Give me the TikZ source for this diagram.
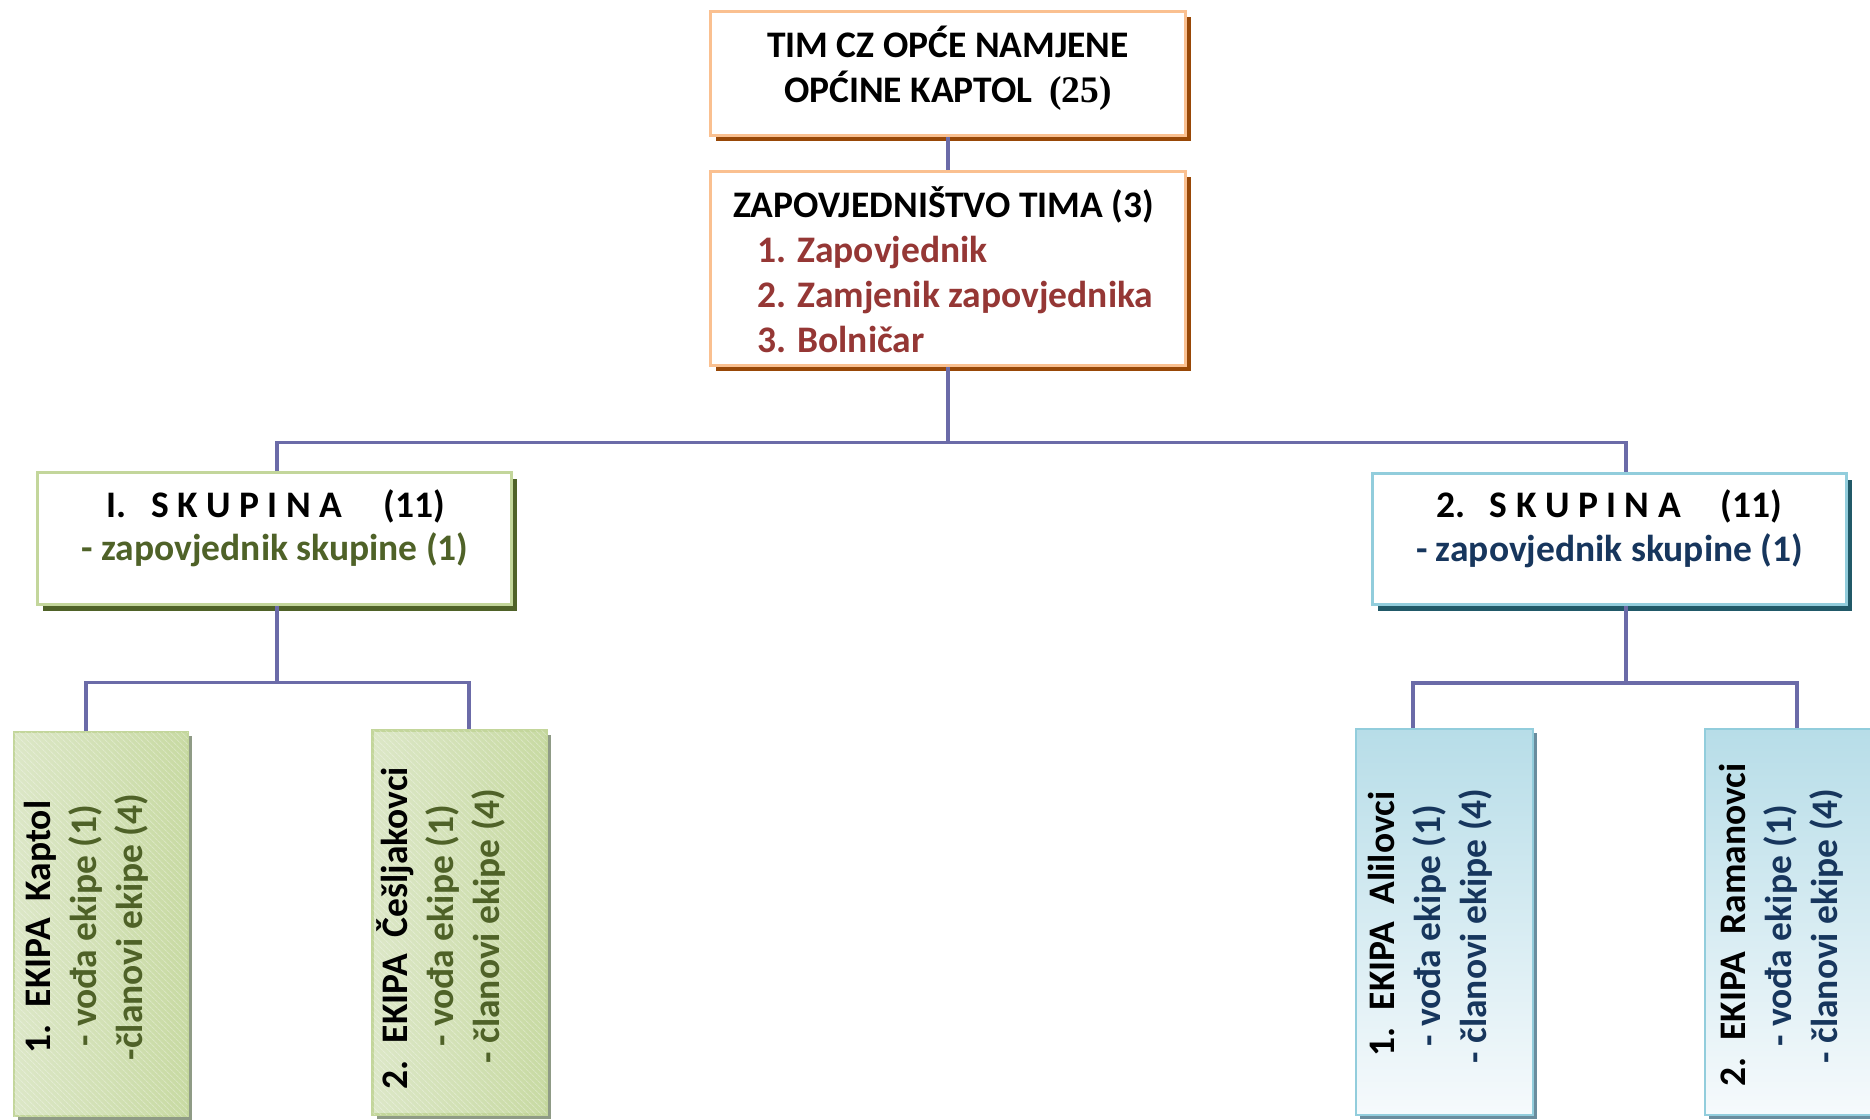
\documentclass[tikz,border=0pt]{standalone}
\usepackage{fontspec}
\setmainfont{Carlito}
\newfontfamily\serifnum{Liberation Serif}
\usetikzlibrary{shadows,patterns.meta,calc}

\definecolor{orB}{HTML}{FAC090}
\definecolor{orS}{HTML}{984807}
\definecolor{grB}{HTML}{C3D69B}
\definecolor{grS}{HTML}{4F6228}
\definecolor{grT}{HTML}{4F6228}
\definecolor{blB}{HTML}{92CDDC}
\definecolor{blS}{HTML}{215968}
\definecolor{blT}{HTML}{17365D}
\definecolor{redT}{HTML}{953735}
\definecolor{connC}{HTML}{6B6BA8}
\definecolor{grFa}{HTML}{DCE7C7}
\definecolor{grFb}{HTML}{C8DAA3}
\definecolor{blFa}{HTML}{B7DDE8}
\definecolor{blFb}{HTML}{F6FAFC}
\definecolor{grSh}{HTML}{8F9B86}
\definecolor{blSh}{HTML}{6A8D9E}

\begin{document}
\begin{tikzpicture}[x=1pt,y=-1pt,
  font=\bfseries\fontsize{37.5}{45}\selectfont,
  box/.style={inner sep=0pt, line width=3pt, fill=white},
  topbox/.style={box, draw=orB, minimum width=475pt,
    drop shadow={shadow xshift=5pt, shadow yshift=-5pt, fill=orS, opacity=1}},
  gbox/.style={box, draw=grB, minimum width=474pt, minimum height=132pt,
    drop shadow={shadow xshift=5.5pt, shadow yshift=-6pt, fill=grS, opacity=1}},
  bbox/.style={box, draw=blB, minimum width=474pt, minimum height=131pt,
    drop shadow={shadow xshift=5.5pt, shadow yshift=-6pt, fill=blS, opacity=1}},
  gek/.style={inner sep=0pt, line width=2.5pt, draw=grB, minimum width=174pt, minimum height=384pt,
    left color=grFa, right color=grFb,
    drop shadow={shadow xshift=4.5pt, shadow yshift=-4pt, fill=grSh, opacity=1},
    postaction={pattern={Lines[angle=-45,distance=4pt,line width=1pt]}, pattern color=white, opacity=0.3}},
  bek/.style={inner sep=0pt, line width=2.5pt, draw=blB, minimum width=177pt, minimum height=386pt,
    top color=blFa, bottom color=blFb,
    drop shadow={shadow xshift=4pt, shadow yshift=-4pt, fill=blSh, opacity=1}},
  conn/.style={draw=connC, line width=3.5pt},
  txt/.style={inner sep=0pt, text=black},
  vtxt/.style={txt, rotate=90, anchor=base},
]
\useasboundingbox (0,0) rectangle (1870,1119);
\clip (0,0) rectangle (1870,1119);
\fill[white] (0,0) rectangle (1870,1119);

% boxes
\node[topbox, minimum height=124pt] (top) at (948,73.5) {};
\node[topbox, minimum height=194pt] (zap) at (948,268.5) {};
\node[gbox] (sk1) at (274.5,538.5) {};
\node[bbox] (sk2) at (1609.5,539) {};
\node[gek] (ek1) at (100.75,924) {};
\node[gek] (ek2) at (459.5,922.5) {};
\node[bek] (ek3) at (1444.5,922) {};
\node[bek] (ek4) at (1793.5,922) {};

% connectors
\draw[conn] (top) -- (zap);
\draw[conn] (zap.south) -- ++(0,75.5) coordinate (hb);
\draw[conn] ($(sk1.north)+(2.5,0)$) |- (hb) -| ($(sk2.north)+(16.5,0)$);
\draw[conn] ($(sk1.south)+(2.5,0)$) -- ++(0,76.5) coordinate (b1);
\draw[conn] ($(ek1.north)+(-14.75,0)$) |- (b1) -| ($(ek2.north)+(9.5,0)$);
\draw[conn] ($(sk2.south)+(16.5,0)$) -- ++(0,77) coordinate (b2);
\draw[conn] ($(ek3.north)+(-31.5,0)$) |- (b2) -| ($(ek4.north)+(3.5,0)$);

% top texts
\node[txt, anchor=base] (t1a) at (948,57) {TIM CZ OPĆE NAMJENE};
\node[txt, anchor=base] (t1b) at (948,102) {OPĆINE KAPTOL~~{\serifnum (25)}};
\node[txt, anchor=base west] (z0) at (733,217) {ZAPOVJEDNIŠTVO TIMA (3)};
\node[txt, anchor=base west, text=redT] (z1) at (757,262) {1. Zapovjednik};
\node[txt, anchor=base west, text=redT] (z2) at (757,307) {2. Zamjenik zapovjednika};
\node[txt, anchor=base west, text=redT] (z3) at (757,352) {3. Bolničar};

% skupine
\node[txt, anchor=base] (s1a) at (275.5,517) {I.\hspace{25pt}S K U P I N A\hspace{41pt}(11)};
\node[txt, anchor=base, text=grT] (s1b) at (275,560) {- zapovjednik skupine (1)};
\node[txt, anchor=base] (s2a) at (1609.5,517) {2.\hspace{24pt}S K U P I N A\hspace{40pt}(11)};
\node[txt, anchor=base, text=blT] (s2b) at (1609.5,561) {- zapovjednik skupine (1)};

% ekipe
\node[vtxt] (e1a) at (50,927) {1.~~EKIPA~~Kaptol};
\node[vtxt, text=grT] (e1b) at (96,926) {- vođa ekipe (1)};
\node[vtxt, text=grT] (e1c) at (142,927) {-članovi ekipe (4)};
\node[vtxt] (e2a) at (407,928) {2.~~EKIPA~~Češljakovci};
\node[vtxt, text=grT] (e2b) at (453,926) {- vođa ekipe (1)};
\node[vtxt, text=grT] (e2c) at (499,926) {- članovi ekipe (4)};
\node[vtxt] (e3a) at (1394,924) {1.~~EKIPA~~Alilovci};
\node[vtxt, text=blT] (e3b) at (1440,926) {- vođa ekipe (1)};
\node[vtxt, text=blT] (e3c) at (1486,926) {- članovi ekipe (4)};
\node[vtxt] (e4a) at (1745,925) {2.~~EKIPA~~Ramanovci};
\node[vtxt, text=blT] (e4b) at (1791,926) {- vođa ekipe (1)};
\node[vtxt, text=blT] (e4c) at (1837,926) {- članovi ekipe (4)};
\end{tikzpicture}
\end{document}
